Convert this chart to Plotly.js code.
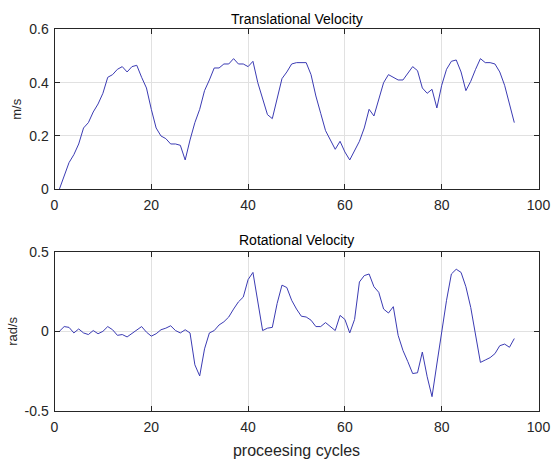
<!DOCTYPE html>
<html><head><meta charset="utf-8">
<script src="https://cdn.plot.ly/plotly-3.0.1.min.js"></script>
<style>html,body{margin:0;padding:0;background:#fff}#chart{width:551px;height:459px}</style>
</head><body><div id="chart"></div>
<script>
const cycles = [1,2,3,4,5,6,7,8,9,10,11,12,13,14,15,16,17,18,19,20,21,22,23,24,25,26,27,28,29,30,31,32,33,34,35,36,37,38,39,40,41,42,43,44,45,46,47,48,49,50,51,52,53,54,55,56,57,58,59,60,61,62,63,64,65,66,67,68,69,70,71,72,73,74,75,76,77,78,79,80,81,82,83,84,85,86,87,88,89,90,91,92,93,94,95];
const transVel = [0,0.05,0.10,0.13,0.17,0.23,0.25,0.29,0.32,0.36,0.42,0.43,0.45,0.46,0.44,0.46,0.465,0.42,0.38,0.30,0.23,0.20,0.19,0.17,0.17,0.165,0.11,0.185,0.25,0.30,0.37,0.41,0.455,0.455,0.47,0.47,0.49,0.47,0.47,0.46,0.48,0.40,0.335,0.28,0.265,0.335,0.415,0.44,0.47,0.475,0.475,0.475,0.43,0.35,0.285,0.22,0.185,0.15,0.18,0.14,0.11,0.145,0.18,0.23,0.30,0.275,0.335,0.40,0.43,0.42,0.41,0.41,0.435,0.46,0.445,0.38,0.36,0.375,0.305,0.39,0.45,0.48,0.485,0.44,0.37,0.405,0.45,0.49,0.475,0.475,0.47,0.44,0.39,0.32,0.25];
const rotVel = [0,0.03,0.025,-0.01,0.015,-0.01,-0.02,0.005,-0.015,0,0.03,0.01,-0.025,-0.02,-0.035,-0.015,0.01,0.03,-0.005,-0.03,-0.015,0.01,0.02,0.035,0.005,-0.01,0.01,-0.01,-0.21,-0.28,-0.11,-0.01,0.005,0.04,0.06,0.09,0.14,0.185,0.215,0.325,0.37,0.185,0.005,0.02,0.025,0.175,0.29,0.275,0.195,0.14,0.095,0.09,0.07,0.03,0.03,0.055,0.03,0.005,0.10,0.075,-0.01,0.075,0.31,0.35,0.36,0.28,0.245,0.14,0.115,0.155,-0.025,-0.12,-0.19,-0.265,-0.26,-0.13,-0.285,-0.41,-0.205,0.005,0.195,0.36,0.39,0.37,0.28,0.15,-0.035,-0.195,-0.18,-0.165,-0.14,-0.09,-0.08,-0.10,-0.045];
const xTickVals = [0,20,40,60,80,100];
const xTickText = ['0','20','40','60','80','100'];
const y1TickVals = [0,0.2,0.4,0.6];
const y1TickText = ['0','0.2','0.4','0.6'];
const y2TickVals = [-0.5,0,0.5];
const y2TickText = ['-0.5','0','0.5'];

const FONT = 'Liberation Sans, Arial, Helvetica, sans-serif';
const AX = '#262626';
const W = 551, H = 459;
const xDom = [54.5/W, 538.5/W];
const y1Dom = [1-189.3/H, 1-29.3/H];
const y2Dom = [1-411/H, 1-251.7/H];

function xa(anchor, titleText){
  const o = {domain:xDom, anchor:anchor, range:[0,100], tickvals:xTickVals, ticktext:xTickText,
    showgrid:true, gridcolor:'#e1e1e1', gridwidth:1, zeroline:false,
    showline:true, linecolor:AX, linewidth:1, mirror:'ticks', ticks:'inside', ticklen:5, tickcolor:AX,
    ticklabelstandoff:3,
    tickfont:{family:FONT,size:14,color:AX}, fixedrange:true};
  if (titleText) o.title = {text:titleText, font:{family:FONT,size:16,color:AX}, standoff:13};
  return o;
}
function ya(anchor, dom, range, tv, tt, titleText){
  return {domain:dom, anchor:anchor, range:range, tickvals:tv, ticktext:tt,
    showgrid:true, gridcolor:'#e1e1e1', gridwidth:1, zeroline:false,
    showline:true, linecolor:AX, linewidth:1, mirror:'ticks', ticks:'inside', ticklen:5, tickcolor:AX,
    ticklabelstandoff:2,
    tickfont:{family:FONT,size:14,color:AX}, fixedrange:true,
    title:{text:titleText, font:{family:FONT,size:13,color:AX}, standoff:4}};
}

const data = [
  {x:cycles, y:transVel, type:'scatter', mode:'lines', xaxis:'x', yaxis:'y',
   line:{color:'#3b3bb3', width:1}, hoverinfo:'x+y'},
  {x:cycles, y:rotVel, type:'scatter', mode:'lines', xaxis:'x2', yaxis:'y2',
   line:{color:'#3b3bb3', width:1}, hoverinfo:'x+y'}
];
const layout = {
  width:W, height:H, margin:{l:0,r:0,t:0,b:0}, showlegend:false,
  paper_bgcolor:'#ffffff', plot_bgcolor:'#ffffff',
  font:{family:FONT, color:AX},
  xaxis: xa('y', null),
  yaxis: ya('x', y1Dom, [0,0.6], y1TickVals, y1TickText, 'm/s'),
  xaxis2: xa('y2', 'proceesing cycles'),
  yaxis2: ya('x2', y2Dom, [-0.5,0.5], y2TickVals, y2TickText, 'rad/s'),
  annotations:[
    {text:'Translational Velocity', xref:'paper', yref:'paper', x:(xDom[0]+xDom[1])/2, y:1-18.5/H,
     xanchor:'center', yanchor:'middle', showarrow:false, font:{family:FONT,size:14,color:'#000'}},
    {text:'Rotational Velocity', xref:'paper', yref:'paper', x:(xDom[0]+xDom[1])/2, y:1-240/H,
     xanchor:'center', yanchor:'middle', showarrow:false, font:{family:FONT,size:14,color:'#000'}}
  ]
};
Plotly.newPlot('chart', data, layout, {displayModeBar:false, staticPlot:false});
</script></body></html>
